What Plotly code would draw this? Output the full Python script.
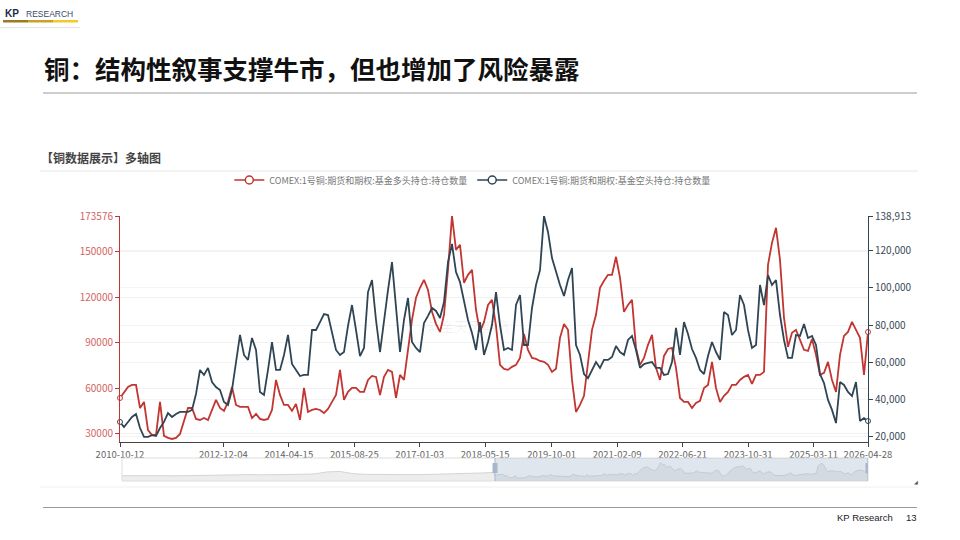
import plotly.graph_objects as go
import pandas as pd

# ---------------- data ----------------
start_date = "2010-10-12"
end_date = "2026-04-28"

series_long_name = "COMEX:1号铜:期货和期权:基金多头持仓:持仓数量"
series_short_name = "COMEX:1号铜:期货和期权:基金空头持仓:持仓数量"

long_pos = [
    53700, 57700, 61000, 62300, 62300, 47100, 51100, 32600, 29300, 29300,
    51100, 28700, 27400, 26700, 27400, 30000, 39200, 47100, 47100, 39900,
    39200, 40500, 39200, 45800, 52400, 47100, 45200, 51100, 61000, 49100,
    47800, 47800, 47800, 40500, 43200, 39900, 39200, 39900, 45800, 65600,
    55700, 49100, 49100, 45200, 49800, 39200, 60300, 44500, 45800, 46500,
    45800, 43800, 46500, 51100, 55700, 72200, 52400, 57700, 60300, 60300,
    57700, 57700, 65600, 68200, 67600, 55700, 67600, 72200, 70900, 53700,
    68900, 65600, 85400, 105200, 119700, 126300, 131500, 124900, 110400, 102500,
    97200, 108500, 138100, 173576, 151300, 154600, 129600, 134800, 138100, 111800,
    97200, 103800, 115000, 118300, 101200, 75500, 72900, 72200, 74200, 75500,
    80100, 95900, 85400, 80100, 79400, 78100, 77500, 75500, 70900, 72900,
    93300, 102500, 98600, 65600, 44500, 49100, 55100, 78100, 98600, 108500,
    126300, 130900, 134800, 134800, 146700, 132900, 110400, 115000, 118300, 86700,
    75500, 80100, 88700, 95300, 73500, 65600, 81400, 86000, 86700, 73500,
    53700, 51100, 51100, 47100, 50400, 51800, 60300, 62300, 77500, 60300,
    51100, 55100, 57700, 62300, 62300, 65600, 67600, 68900, 63000, 68900,
    68900, 70900, 141400, 155900, 165800, 144700, 106500, 87400, 96600, 98600,
    92000, 85400, 84700, 92600, 82100, 68900, 70200, 77500, 65600, 57700,
    82100, 94600, 97200, 103800, 98600, 93300, 68900, 97200,
]

short_pos = [
    27600, 24900, 27600, 30300, 31900, 24300, 19500, 19500, 20500, 20000,
    24300, 27600, 32400, 30300, 31900, 33000, 33000, 33000, 34100, 42700,
    55700, 53000, 56800, 49200, 46500, 44900, 38400, 36800, 44900, 61100,
    74600, 63800, 61100, 73000, 66500, 43800, 42200, 55700, 70800, 55700,
    55700, 63800, 74600, 58900, 55700, 52400, 53000, 53000, 77300, 77300,
    81600, 85900, 85400, 76200, 66500, 63800, 65400, 79500, 90800, 77300,
    63200, 67600, 97800, 104300, 82700, 65400, 83800, 98900, 114000, 89200,
    65400, 82700, 94600, 70800, 67600, 65400, 81100, 84900, 89200, 87600,
    83800, 92400, 114000, 123800, 108600, 103200, 93500, 82700, 75700, 66500,
    81600, 63800, 70800, 80000, 97800, 80000, 66500, 67600, 66500, 90800,
    96200, 69200, 69200, 89200, 101600, 109700, 138913, 130300, 116200, 108600,
    101600, 95700, 104300, 110800, 69200, 63800, 53500, 51300, 55700, 60000,
    56800, 61100, 61100, 62700, 68600, 65400, 63800, 71900, 74100, 66500,
    56800, 58900, 59500, 60000, 56800, 56800, 53000, 53500, 60000, 78400,
    63800, 81600, 75100, 67000, 62200, 55700, 53500, 63200, 70800, 65400,
    61100, 87000, 85400, 74600, 77300, 96200, 90800, 77300, 67600, 69200,
    101600, 90800, 107000, 101600, 104300, 85400, 71900, 62200, 62200, 74600,
    74100, 80500, 73000, 74100, 69200, 53500, 48600, 39500, 34100, 27000,
    49200, 47600, 43800, 41600, 49200, 28100, 29700, 28100,
]

# earlier history of the long series, only visible in the zoom slider
slider_early = [
    50000, 48000, 50000, 47000, 49000, 50000, 52000, 55000, 60000, 62000,
    60000, 58000, 62000, 60000, 63000, 66000, 85000, 90000, 70000, 62000,
    60000, 58000, 55000, 60000, 62000, 65000, 63000, 68000, 75000, 80000,
]

x_tick_labels = ["2010-10-12", "2012-12-04", "2014-04-15", "2015-08-25", "2017-01-03",
                 "2018-05-15", "2019-10-01", "2021-02-09", "2022-06-21", "2023-10-31",
                 "2025-03-11", "2026-04-28"]
left_ticks = [30000, 60000, 90000, 120000, 150000, 173576]
right_ticks = [20000, 40000, 60000, 80000, 100000, 120000, 138913]

# ---------------- build ----------------
dates = pd.date_range(start_date, end_date, periods=len(long_pos))
span = pd.Timestamp(end_date) - pd.Timestamp(start_date)
slider_start = pd.Timestamp(start_date) - span
early_dates = pd.date_range(slider_start, pd.Timestamp(start_date) - pd.Timedelta(days=28),
                            periods=len(slider_early))

RED = "#c23531"
DARK = "#2f4554"
CJK = "Noto Sans CJK SC"

W, H = 960, 540
def px(x):
    return x / W
def py(y):
    return 1 - y / H

fig = go.Figure()

# main lines
fig.add_trace(go.Scatter(x=dates, y=long_pos, mode="lines", line=dict(color=RED, width=1.8),
                         xaxis="x", yaxis="y", showlegend=False, hoverinfo="skip"))
fig.add_trace(go.Scatter(x=dates, y=short_pos, mode="lines", line=dict(color=DARK, width=1.8),
                         xaxis="x", yaxis="y2", showlegend=False, hoverinfo="skip"))
# end markers
fig.add_trace(go.Scatter(x=[dates[0], dates[-1]], y=[long_pos[0], long_pos[-1]], mode="markers",
                         marker=dict(symbol="circle", size=5, color="white", line=dict(color=RED, width=1)),
                         xaxis="x", yaxis="y", showlegend=False, hoverinfo="skip", cliponaxis=False))
fig.add_trace(go.Scatter(x=[dates[0], dates[-1]], y=[short_pos[0], short_pos[-1]], mode="markers",
                         marker=dict(symbol="circle", size=5, color="white", line=dict(color=DARK, width=1)),
                         xaxis="x", yaxis="y2", showlegend=False, hoverinfo="skip", cliponaxis=False))
# legend entries
fig.add_trace(go.Scatter(x=[None], y=[None], mode="lines+markers", name=series_long_name,
                         line=dict(color=RED, width=1.5),
                         marker=dict(symbol="circle", size=8, color="white", line=dict(color=RED, width=1.5))))
fig.add_trace(go.Scatter(x=[None], y=[None], mode="lines+markers", name=series_short_name,
                         line=dict(color=DARK, width=1.5),
                         marker=dict(symbol="circle", size=8, color="white", line=dict(color=DARK, width=1.5))))

# slider area
fig.add_trace(go.Scatter(x=list(early_dates) + list(dates), y=slider_early + long_pos,
                         mode="lines", fill="tozeroy", line=dict(color="#cccccc", width=0.8),
                         fillcolor="rgba(0,0,0,0.07)", xaxis="x3", yaxis="y3",
                         showlegend=False, hoverinfo="skip"))

shapes = []
def hline(y, x0, x1, color, width=1):
    shapes.append(dict(type="line", xref="paper", yref="paper", x0=px(x0), x1=px(x1),
                       y0=py(y), y1=py(y), line=dict(color=color, width=width)))

# logo bar
for (a, b, c) in [(3, 28, "#9a7a22"), (28, 53, "#c9a227"), (53, 78, "#f0cc2a")]:
    shapes.append(dict(type="rect", xref="paper", yref="paper", x0=px(a), x1=px(b),
                       y0=py(22.5), y1=py(20), fillcolor=c, line=dict(width=0)))
hline(27.5, 0, 80, "#e2e2e2")
hline(93, 43, 917, "#9a9a9a")
hline(171, 40, 918, "#e6e6e6")
hline(487, 40, 918, "#f0f0f0")
hline(507.5, 43, 917, "#9a9a9a")

# slider frame, window and handles
shapes.append(dict(type="rect", xref="paper", yref="paper", x0=px(122), x1=px(868),
                   y0=py(481), y1=py(458), line=dict(color="#dddddd", width=1)))
shapes.append(dict(type="rect", xref="x3", yref="paper", x0=start_date, x1=end_date,
                   y0=py(481), y1=py(458), fillcolor="rgba(167,183,204,0.35)", line=dict(width=0)))
for hx in [start_date, end_date]:
    shapes.append(dict(type="line", xref="x3", yref="paper", x0=hx, x1=hx,
                       y0=py(481), y1=py(458), line=dict(color="#a7b7cc", width=1)))
    shapes.append(dict(type="rect", xref="x3", yref="paper", x0=hx, x1=hx,
                       y0=py(473), y1=py(463), line=dict(color="#a7b7cc", width=5)))

annotations = [
    dict(text="<b>KP</b>", x=px(3), y=py(14), xref="paper", yref="paper", xanchor="left",
         yanchor="middle", showarrow=False, font=dict(family="Arial", size=10, color="#1b2a4a")),
    dict(text="RESEARCH", x=px(24), y=py(14), xref="paper", yref="paper", xanchor="left",
         yanchor="middle", showarrow=False, font=dict(family="Arial", size=8.5, color="#3b4a6b")),
    dict(text="<b>铜：结构性叙事支撑牛市，但也增加了风险暴露</b>", x=px(42), y=py(68),
         xref="paper", yref="paper", xanchor="left", yanchor="middle", showarrow=False,
         font=dict(family=CJK, size=25.5, color="#111111")),
    dict(text="<b>【铜数据展示】多轴图</b>", x=px(39), y=py(158), xref="paper", yref="paper",
         xanchor="left", yanchor="middle", showarrow=False,
         font=dict(family=CJK, size=12, color="#444444")),
    dict(text="紫金天风期货", x=px(468), y=py(326), xref="paper", yref="paper",
         xanchor="center", yanchor="middle", showarrow=False,
         font=dict(family=CJK, size=14, color="rgba(0,0,0,0.06)")),
    dict(text="KP Research", x=px(835), y=py(517), xref="paper", yref="paper",
         xanchor="left", yanchor="middle", showarrow=False,
         font=dict(family="Arial", size=9.5, color="#222222")),
    dict(text="13", x=px(904), y=py(517), xref="paper", yref="paper",
         xanchor="left", yanchor="middle", showarrow=False,
         font=dict(family="Arial", size=9.5, color="#222222")),
    dict(text="◢", x=px(916), y=py(482), xref="paper", yref="paper",
         xanchor="center", yanchor="middle", showarrow=False,
         font=dict(family="DejaVu Sans", size=5, color="#555555")),
]

fig.update_layout(
    width=W, height=H, margin=dict(l=0, r=0, t=0, b=0, autoexpand=False),
    paper_bgcolor="white", plot_bgcolor="white",
    font=dict(family=CJK),
    shapes=shapes, annotations=annotations,
    showlegend=True,
    legend=dict(orientation="h", x=0.492, xanchor="center", y=py(180), yanchor="middle",
                font=dict(family=CJK, size=9, color="#777777"), bgcolor="rgba(0,0,0,0)",
                itemwidth=30, tracegroupgap=0),
    xaxis=dict(domain=[px(120), px(868)], anchor="y", type="date",
               range=[start_date, end_date], automargin=False, tickangle=0,
               tickmode="array", tickvals=x_tick_labels, ticktext=x_tick_labels,
               tickfont=dict(family=CJK, size=9.5, color="#666666"),
               showline=True, linecolor="#444444", linewidth=1,
               ticks="outside", ticklen=4, tickcolor="#444444",
               showgrid=False, zeroline=False, fixedrange=True),
    yaxis=dict(domain=[py(442), py(216)], anchor="x", range=[24700, 173576], automargin=False,
               tickmode="array", tickvals=left_ticks, ticktext=[str(v) for v in left_ticks],
               tickfont=dict(family=CJK, size=10, color="#d2645f"),
               showline=True, linecolor=RED, linewidth=1,
               ticks="outside", ticklen=4, tickcolor=RED,
               showgrid=True, gridcolor="#f1f1f1", zeroline=False),
    yaxis2=dict(overlaying="y", side="right", anchor="x", range=[16760, 138913], automargin=False,
                tickmode="array", tickvals=right_ticks,
                ticktext=[f"{v:,}" for v in right_ticks],
                tickfont=dict(family=CJK, size=10, color="#3a4a58"),
                showline=True, linecolor=DARK, linewidth=1,
                ticks="outside", ticklen=4, tickcolor=DARK,
                showgrid=True, gridcolor="#f4f4f4", zeroline=False),
    xaxis3=dict(domain=[px(122), px(868)], anchor="y3", type="date", automargin=False,
                range=[slider_start, end_date], visible=False),
    yaxis3=dict(domain=[py(481), py(458)], anchor="x3", range=[0, 216000], visible=False,
                automargin=False),
)

fig.write_html("out.html")
